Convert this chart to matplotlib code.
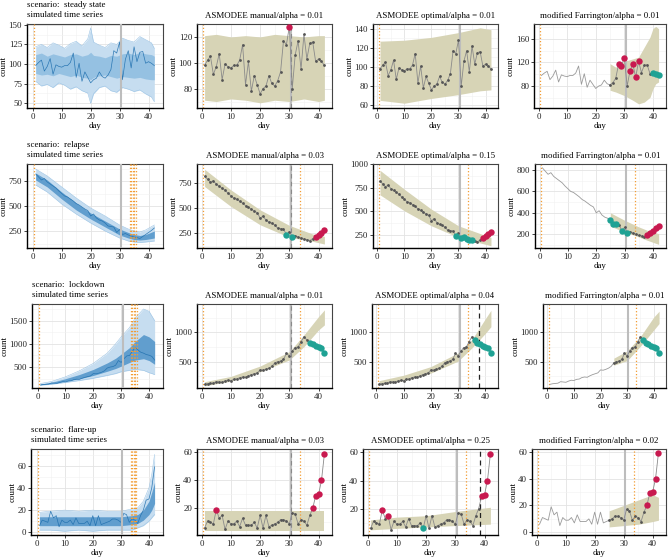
import matplotlib
matplotlib.use('Agg')
import matplotlib.pyplot as plt
from matplotlib.ticker import AutoMinorLocator

plt.rcParams['font.family'] = ['Liberation Serif', 'DejaVu Serif']
FS = 6.4
plt.rcParams['font.size'] = FS

# ---------------- data ----------------
days = list(range(1, 43))

obs_steady = [98, 102, 105, 91, 97, 107, 87, 99, 97, 96, 98, 98, 102, 114, 83, 101, 78, 90, 83, 76,
              80, 82, 90, 84, 82, 86, 93, 117, 114, 128, 80, 106, 117, 95, 122, 103, 115, 116, 101, 103,
              101, 98]
obs_relapse = [820, 790, 760, 775, 740, 720, 700, 680, 650, 625, 600, 590, 570, 550, 525, 510, 490, 470,
               455, 400, 420, 380, 360, 350, 330, 300, 295, 290, 235, 265, 215, 225, 210, 200, 190, 185,
               175, 195, 215, 235, 255, 280]
obs_lockdown = [115, 125, 130, 135, 160, 155, 150, 170, 185, 180, 200, 205, 230, 240, 235, 260, 280, 295,
                310, 360, 355, 370, 390, 420, 480, 500, 510, 540, 640, 600, 680, 740, 750, 840, 920, 870,
                820, 800, 770, 755, 730, 650]
obs_flare = [6, 11, 10, 9, 19, 13, 15, 5, 11, 9, 9, 11, 7, 13, 8, 8, 8, 10, 6, 15,
             6, 15, 7, 8, 9, 10, 12, 12, 11, 9, 17, 16, 9, 12, 11, 8, 15, 20, 29, 30,
             40, 59]

# simulated time series envelopes (outer = all runs, inner = bulk of runs)
sim_days_steady = [1, 3, 5, 7, 9, 11, 13, 15, 17, 19, 20, 21, 23, 25, 27, 29, 31, 33, 35, 37, 39, 41, 42]
sim_out_hi_steady = [122, 125, 121, 127, 124, 120, 126, 129, 123, 132, 146, 128, 124, 121, 127, 125, 133,
                     130, 128, 135, 131, 127, 120]
sim_out_lo_steady = [78, 72, 74, 70, 76, 73, 68, 71, 66, 63, 50, 62, 70, 72, 66, 64, 70, 68, 65, 67, 62, 58, 52]
sim_in_hi_steady = [112, 114, 110, 113, 111, 109, 112, 113, 110, 112, 115, 111, 110, 108, 111, 110, 113,
                    114, 112, 115, 113, 112, 110]
sim_in_lo_steady = [88, 86, 87, 85, 88, 86, 84, 86, 83, 82, 80, 83, 85, 86, 84, 82, 84, 83, 82, 83, 81, 80, 80]

sim_days_relapse = [1, 5, 10, 15, 20, 25, 30, 33, 35, 37, 39, 42]
sim_out_hi_relapse = [870, 800, 690, 580, 480, 400, 310, 270, 250, 240, 260, 310]
sim_out_lo_relapse = [710, 640, 520, 420, 330, 250, 180, 150, 140, 135, 140, 150]
sim_in_hi_relapse = [830, 760, 640, 530, 430, 350, 270, 235, 215, 205, 215, 250]
sim_in_lo_relapse = [760, 690, 570, 460, 370, 290, 210, 180, 165, 160, 165, 180]

sim_days_lockdown = [1, 5, 10, 15, 20, 25, 28, 30, 33, 35, 38, 40, 42]
sim_out_hi_lockdown = [145, 190, 290, 420, 580, 800, 1000, 1150, 1350, 1550, 1750, 1700, 1500]
sim_out_lo_lockdown = [110, 130, 170, 210, 260, 320, 360, 400, 430, 450, 430, 380, 340]
sim_in_hi_lockdown = [135, 170, 250, 340, 450, 590, 690, 780, 920, 1050, 1200, 1150, 1050]
sim_in_lo_lockdown = [120, 145, 195, 250, 320, 410, 470, 520, 600, 650, 680, 640, 560]

sim_days_flare = [1, 5, 10, 15, 20, 25, 30, 34, 36, 38, 40, 41, 42]
sim_out_hi_flare = [18, 19, 20, 19, 20, 19, 19, 21, 22, 28, 40, 52, 70]
sim_out_lo_flare = [2, 2, 1, 2, 1, 2, 2, 2, 4, 6, 10, 13, 16]
sim_in_hi_flare = [14, 14, 14, 14, 14, 14, 14, 15, 16, 20, 28, 36, 45]
sim_in_lo_flare = [6, 6, 6, 6, 6, 6, 6, 7, 8, 11, 16, 20, 26]

# prediction bands of the three methods
band_days_m1 = [1, 5, 10, 15, 20, 25, 30, 35, 40, 42]
band_hi_m1 = [121, 122, 120, 121, 120, 122, 121, 120, 121, 121]
band_lo_m1 = [71, 70, 72, 71, 69, 71, 70, 72, 70, 71]
band_days_o1 = [1, 10, 20, 30, 38, 42]
band_hi_o1 = [127, 128, 131, 136, 141, 139]
band_lo_o1 = [65, 62, 67, 71, 75, 76]
band_days_f1 = [25, 27, 30, 33, 35, 37, 39, 40, 41, 42]
band_hi_f1 = [118, 112, 122, 126, 129, 146, 163, 177, 181, 177]
band_lo_f1 = [73, 70, 64, 56, 50, 53, 61, 75, 84, 87]

band_days_m2 = [1, 10, 20, 30, 38, 42]
band_hi_m2 = [890, 683, 483, 327, 240, 217]
band_lo_m2 = [717, 517, 333, 207, 167, 140]
band_days_o2 = [1, 10, 20, 30, 42]
band_hi_o2 = [933, 732, 521, 345, 222]
band_lo_o2 = [673, 504, 345, 222, 134]
band_days_f2 = [25, 30, 35, 38, 42]
band_hi_f2 = [400, 331, 269, 237, 206]
band_lo_f2 = [275, 222, 175, 144, 106]

band_days_m3 = [1, 10, 20, 30, 35, 40, 42]
band_hi_m3 = [160, 250, 426, 670, 955, 1267, 1380]
band_lo_m3 = [90, 170, 330, 529, 756, 1040, 1125]
band_days_o3 = [1, 10, 20, 30, 35, 40, 42]
band_hi_o3 = [178, 270, 417, 650, 872, 1233, 1372]
band_lo_o3 = [106, 180, 306, 511, 733, 983, 1094]
band_days_f3 = [25, 30, 35, 40, 42]
band_hi_f3 = [560, 682, 929, 1258, 1357]
band_lo_f3 = [440, 517, 764, 1038, 1148]

band_days_m4 = [1, 42]
band_hi_m4 = [18, 18]
band_lo_m4 = [4, 4]
band_days_o4 = [1, 10, 20, 30, 42]
band_hi_o4 = [12, 14, 15, 18, 21]
band_lo_o4 = [5, 6, 7, 8, 9]
band_days_f4 = [25, 30, 35, 40, 42]
band_hi_f4 = [16, 20, 24, 28, 26]
band_lo_f4 = [4, 5, 6, 8, 9]

# flagged days: (increase, decrease)
flags = {
    (0, 'm'): ([30], []), (0, 'o'): ([], []), (0, 'f'): ([28, 29, 30, 32, 33, 34, 35], [40, 41, 42]),
    (1, 'm'): ([39, 40, 41, 42], [29, 31]), (1, 'o'): ([39, 40, 41, 42], [29, 31, 32, 33, 34, 35]),
    (1, 'f'): ([38, 39, 40, 41, 42], [25, 26, 27, 29, 31]),
    (2, 'm'): ([], [37, 38, 39, 40, 41, 42]), (2, 'o'): ([], [36, 37, 38, 39, 40, 41, 42]),
    (2, 'f'): ([], [36, 37, 38, 39, 40, 41, 42]),
    (3, 'm'): ([5, 38, 39, 40, 41, 42], []), (3, 'o'): ([5, 7, 39, 40, 41, 42], [19]),
    (3, 'f'): ([38, 39, 40, 41, 42], []),
}

scenarios = ['steady state', 'relapse', 'lockdown', 'flare-up']
alphas_manual = ['0.01', '0.03', '0.01', '0.03']
alphas_optimal = ['0.01', '0.15', '0.04', '0.25']
alphas_farr = ['0.01', '0.01', '0.01', '0.02']
k_optimal = [None, None, 37.5, 38.5]

obs = [obs_steady, obs_relapse, obs_lockdown, obs_flare]
sims = [
    (sim_days_steady, sim_out_lo_steady, sim_out_hi_steady, sim_in_lo_steady, sim_in_hi_steady),
    (sim_days_relapse, sim_out_lo_relapse, sim_out_hi_relapse, sim_in_lo_relapse, sim_in_hi_relapse),
    (sim_days_lockdown, sim_out_lo_lockdown, sim_out_hi_lockdown, sim_in_lo_lockdown, sim_in_hi_lockdown),
    (sim_days_flare, sim_out_lo_flare, sim_out_hi_flare, sim_in_lo_flare, sim_in_hi_flare),
]
bands = {
    (0, 'm'): (band_days_m1, band_lo_m1, band_hi_m1), (0, 'o'): (band_days_o1, band_lo_o1, band_hi_o1),
    (0, 'f'): (band_days_f1, band_lo_f1, band_hi_f1),
    (1, 'm'): (band_days_m2, band_lo_m2, band_hi_m2), (1, 'o'): (band_days_o2, band_lo_o2, band_hi_o2),
    (1, 'f'): (band_days_f2, band_lo_f2, band_hi_f2),
    (2, 'm'): (band_days_m3, band_lo_m3, band_hi_m3), (2, 'o'): (band_days_o3, band_lo_o3, band_hi_o3),
    (2, 'f'): (band_days_f3, band_lo_f3, band_hi_f3),
    (3, 'm'): (band_days_m4, band_lo_m4, band_hi_m4), (3, 'o'): (band_days_o4, band_lo_o4, band_hi_o4),
    (3, 'f'): (band_days_f4, band_lo_f4, band_hi_f4),
}

yticks = [
    [[50, 75, 100, 125, 150], [80, 100, 120], [60, 80, 100, 120, 140], [80, 120, 160]],
    [[250, 500, 750], [250, 500, 750], [250, 500, 750, 1000], [200, 400, 600, 800]],
    [[500, 1000, 1500], [500, 1000], [500, 1000], [500, 1000]],
    [[0, 20, 40, 60], [20, 40, 60], [20, 40, 60], [0, 20, 40, 60]],
]
ylims = [
    [(44, 151), (65, 130), (57, 145), (43, 185)],
    [(80, 920), (100, 943), (110, 1000), (72, 856)],
    [(50, 1857), (53, 1480), (53, 1480), (53, 1480)],
    [(-2.4, 75), (1.0, 62.5), (1.3, 62.4), (-2, 62)],
]

# ---------------- layout (pixels) ----------------
W, H = 670, 560
fig = plt.figure(figsize=(6.7, 5.6), dpi=100)
lefts = [[27, 197, 373, 534], [27, 197, 373, 535], [32, 197, 372, 543], [31, 197, 363, 532]]
rights = [163, 332, 498, 666]
tops = [24, 164, 304, 449]
bottoms = [108, 248, 388, 535]

RED = '#c8194f'
TEAL = '#1fa294'
BAND = '#d7d4b6'
ORANGE = '#f39c32'


def add_ax(l, r, t, b):
    return fig.add_axes([l / W, 1 - b / H, (r - l) / W, (b - t) / H])


def style(ax, ticks, ylim, xlim):
    ax.set_xlim(*xlim)
    ax.set_ylim(*ylim)
    ax.set_xticks([0, 10, 20, 30, 40])
    ax.set_yticks(ticks)
    ax.xaxis.set_minor_locator(AutoMinorLocator(2))
    ax.yaxis.set_minor_locator(AutoMinorLocator(2))
    ax.grid(True, which='major', color='#e3e3e3', lw=0.6)
    ax.grid(True, which='minor', color='#f1f1f1', lw=0.4)
    ax.set_axisbelow(True)
    ax.tick_params(which='major', length=2.5, width=0.6, pad=1.0, labelsize=FS, colors='#222222')
    ax.tick_params(which='minor', length=0)
    for s in ['left', 'bottom']:
        ax.spines[s].set_color('black')
        ax.spines[s].set_linewidth(1.0)
    for s in ['top', 'right']:
        ax.spines[s].set_color('#444444')
        ax.spines[s].set_linewidth(0.8)
    ax.set_xlabel('day', labelpad=1)
    ax.set_ylabel('count', labelpad=0.5)


for r in range(4):
    t, b = tops[r], bottoms[r]
    y = obs[r]

    # simulated time series
    ax = add_ax(lefts[r][0], rights[0], t, b)
    sd, olo, ohi, ilo, ihi = sims[r]
    inner_col = '#8dbce0' if r == 0 else '#4f93c9'
    ax.fill_between(sd, olo, ohi, color='#c6ddf0', lw=0, zorder=1)
    ax.plot(sd, olo, color='#9cc4e5', lw=0.4, zorder=1)
    ax.plot(sd, ohi, color='#9cc4e5', lw=0.4, zorder=1)
    ax.fill_between(sd, ilo, ihi, color=inner_col, lw=0, alpha=0.85, zorder=2)
    ax.plot(days, y, color='#1f6fae', lw=0.5, alpha=0.9, zorder=3)
    ax.axvline(30.5, color='#bdbdbd', lw=1.5, zorder=4)
    ax.axvline(0.5, color=ORANGE, lw=0.9, ls=':', zorder=4)
    if r > 0:
        for xv in [33.5, 34, 34.5, 35, 35.5]:
            ax.axvline(xv, color=ORANGE, lw=0.9, ls=':', zorder=4)
    style(ax, yticks[r][0], ylims[r][0], (-2.0, 45.0))
    ax.text(0, 1.0 + 19 / (b - t), 'scenario:  ' + scenarios[r], transform=ax.transAxes,
            ha='left', va='center', fontsize=FS)
    ax.text(0, 1.0 + 9 / (b - t), 'simulated time series', transform=ax.transAxes,
            ha='left', va='center', fontsize=FS)

    for c, key in enumerate(['m', 'o', 'f']):
        ax = add_ax(lefts[r][c + 1], rights[c + 1], t, b)
        bd, blo, bhi = bands[(r, key)]
        ax.fill_between(bd, blo, bhi, color=BAND, lw=0, zorder=1)
        ax.axvline(30.5, color='#bdbdbd', lw=1.5, zorder=2)
        ax.axvline(0.5, color=ORANGE, lw=0.9, ls=':', zorder=2)
        if r > 0:
            ax.axvline(33.5, color=ORANGE, lw=0.9, ls=':', zorder=2)
        if key == 'm':
            ax.axvline(30.5, color='#8a8a8a', lw=0.8, ls=(0, (4, 3)), zorder=2)
            title = 'ASMODEE manual/alpha = ' + alphas_manual[r]
        elif key == 'o':
            if k_optimal[r] is not None:
                ax.axvline(k_optimal[r], color='#222222', lw=0.9, ls=(0, (4, 3)), zorder=2)
            title = 'ASMODEE optimal/alpha = ' + alphas_optimal[r]
        else:
            title = 'modified Farrington/alpha = ' + alphas_farr[r]

        if key == 'f':
            ax.plot(days[:25], y[:25], color='#9a9a9a', lw=0.6, zorder=3)
            pd_, py = days[24:], y[24:]
        else:
            pd_, py = days, y
        ax.plot(pd_, py, color='#8a8a8a', lw=0.6, zorder=3)
        ax.plot(pd_, py, 'o', color='#555555', ms=2.0, mew=0, zorder=4)
        up, down = flags[(r, key)]
        ax.plot(up, [y[d - 1] for d in up], 'o', color=RED, ms=4.6, mew=0, zorder=5)
        ax.plot(down, [y[d - 1] for d in down], 'o', color=TEAL, ms=4.6, mew=0, zorder=5)
        style(ax, yticks[r][c + 1], ylims[r][c + 1], (-1.6, 44.6))
        ax.set_title(title, fontsize=FS, pad=4)

fig.savefig('out.png', dpi=100)
